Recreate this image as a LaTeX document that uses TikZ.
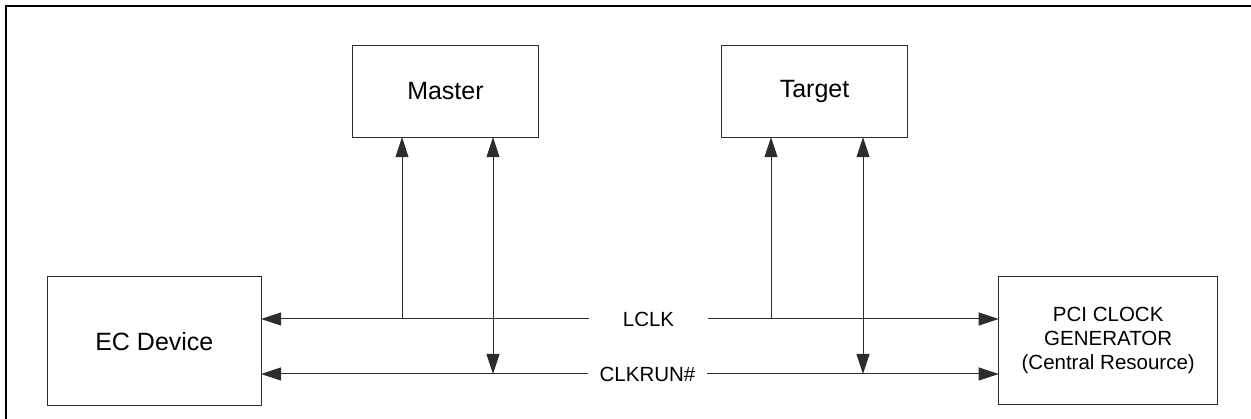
\documentclass[tikz,border=0pt]{standalone}
\usepackage{fontspec}
\setmainfont{Liberation Sans}
\usetikzlibrary{arrows.meta}
\definecolor{linegray}{RGB}{45,45,45}
\tikzset{
  x=1pt, y=1pt,
  blockbox/.style={draw=linegray, line width=1pt, rectangle, inner sep=0pt, outer sep=0pt,
    font=\fontsize{25}{30}\selectfont},
  sigfont/.style={font=\fontsize{20.5}{24}\selectfont},
  siglabel/.style={sigfont, inner sep=0pt, outer sep=0pt, minimum width=119pt, anchor=center},
  wire/.style={draw=linegray, line width=1pt},
  arr/.style={wire, -{Triangle[length=20pt,width=13pt]}},
  biarr/.style={wire, {Triangle[length=20pt,width=13pt]}-{Triangle[length=20pt,width=13pt]}},
}
\begin{document}
\begin{tikzpicture}
\useasboundingbox (0,0) rectangle (1251,419);
% outer frame (top and left edges visible)
\draw[line width=2pt, black] (5.7,0) -- (5.7,413.3) -- (1251,413.3);

% blocks
\node[blockbox, minimum width=213.3pt, minimum height=129pt] (ec) at (154.35,77.8) {EC Device};
\node[blockbox, minimum width=219pt, minimum height=127.6pt, align=center, sigfont] (pci) at (1108.2,78.5)
  {PCI CLOCK\\GENERATOR\\(Central Resource)};
\node[blockbox, minimum width=185.5pt, minimum height=91.5pt] (master) at (445.45,327.55) {Master};
\node[blockbox, minimum width=186pt, minimum height=91.5pt] (target) at (814.5,327.55) {Target};

% signal labels
\node[siglabel] (lclk) at (648.5,100) {LCLK};
\node[siglabel] (clkrun) at (647.5,45) {CLKRUN\#};

% LCLK bus
\draw[arr] (lclk.west) -- (lclk.west -| ec.east);
\draw[arr] (lclk.east) -- (lclk.east -| pci.west);
\coordinate (mL) at (402,100);
\coordinate (tL) at (771,100);
\draw[arr] (mL) -- (mL |- master.south);
\draw[arr] (tL) -- (tL |- target.south);

% CLKRUN# bus
\draw[arr] (clkrun.west) -- (clkrun.west -| ec.east);
\draw[arr] (clkrun.east) -- (clkrun.east -| pci.west);
\coordinate (mR) at (493,45);
\coordinate (tR) at (863,45);
\draw[biarr] (mR |- master.south) -- (mR);
\draw[biarr] (tR |- target.south) -- (tR);
\end{tikzpicture}
\end{document}
